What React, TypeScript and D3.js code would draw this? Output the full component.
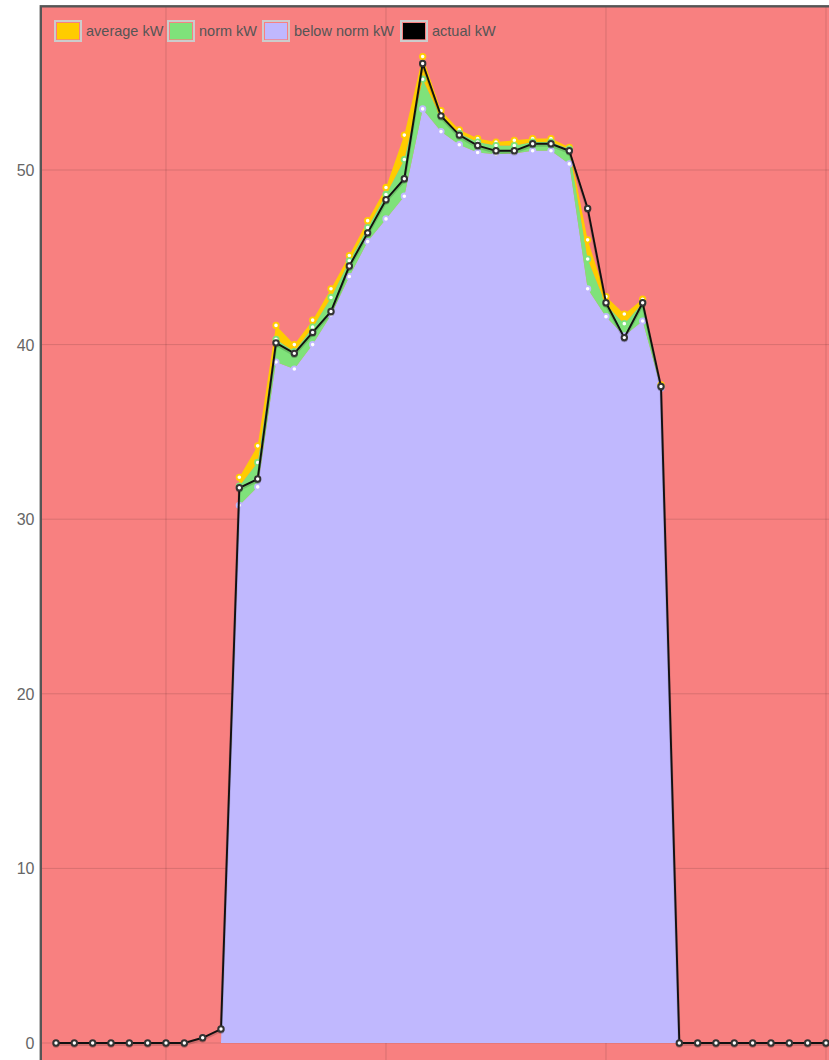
import React from 'react';
import * as d3 from 'd3';

// one value per time slot (48 slots, vertical grid every 12 slots)
const averageKW = [
  0, 0, 0, 0, 0, 0, 0, 0, 0, 0,
  32.4, 34.2, 41.1, 40.0, 41.4, 43.2, 45.1, 47.1, 49.0, 52.0,
  56.5, 53.4, 52.3, 51.8, 51.6, 51.7, 51.8, 51.8, 51.3, 46.0,
  42.75, 41.75, 42.6, 37.7, 0, 0, 0, 0, 0, 0,
  0, 0, 0, 0, 0, 0, 0, 0,
];
const normKW = [
  0, 0, 0, 0, 0, 0, 0, 0, 0, 0,
  31.9, 33.25, 40.3, 39.6, 41.0, 42.7, 44.8, 46.7, 48.6, 50.6,
  55.2, 53.0, 52.1, 51.6, 51.4, 51.4, 51.6, 51.6, 51.2, 44.9,
  42.3, 41.2, 42.4, 37.6, 0, 0, 0, 0, 0, 0,
  0, 0, 0, 0, 0, 0, 0, 0,
];
const belowNormKW = [
  0, 0, 0, 0, 0, 0, 0, 0, 0, 0,
  30.8, 31.85, 39.0, 38.6, 40.0, 41.7, 43.9, 45.9, 47.2, 48.5,
  53.5, 52.2, 51.45, 51.0, 50.9, 50.95, 51.1, 51.1, 50.35, 43.2,
  41.6, 40.5, 41.35, 37.5, 0, 0, 0, 0, 0, 0,
  0, 0, 0, 0, 0, 0, 0, 0,
];
const actualKW = [
  0, 0, 0, 0, 0, 0, 0, 0, 0.3, 0.8,
  31.8, 32.3, 40.1, 39.5, 40.7, 41.9, 44.5, 46.4, 48.3, 49.5,
  56.1, 53.1, 52.0, 51.4, 51.1, 51.1, 51.5, 51.5, 51.1, 47.8,
  42.4, 40.4, 42.4, 37.6, 0, 0, 0, 0, 0, 0,
  0, 0, 0, 0, 0, 0, 0, 0,
];
const zeros = averageKW.map(() => 0);

const yTicks = [0, 10, 20, 30, 40, 50];
const xGridSlots = [6, 18, 30, 42];
const legendLabels = ['average kW', 'norm kW', 'below norm kW', 'actual kW'];
const seriesColors = ['#ffcc00', '#7fe27a', '#c0b8fe', '#000000'];

const W = 829;
const H = 1060;
const plotLeft = 41;
const plotTop = 6;
const bg = '#f88080';
const font = '"Liberation Sans", Arial, sans-serif';

function App() {
  const x = d3.scaleLinear().domain([0, 47]).range([56, 56 + 47 * 18.333]);
  const y = d3.scaleLinear().domain([0, 50]).range([1043, 170]);

  const band = (lo: number[], hi: number[]) =>
    d3
      .area<number>()
      .x((_, i) => x(i))
      .y0((_, i) => y(lo[i]))
      .y1((d) => y(d))(hi) as string;

  const line = d3
    .line<number>()
    .x((_, i) => x(i))
    .y((d) => y(d));

  const legendX = [54, 167, 262, 400];

  // reference series only show points where they have a reading
  const dots = (vals: number[], color: string, key: string, sw = 1.8, all = false) =>
    vals.map((v, i) =>
      all || v > 0 ? (
        <circle key={key + i} cx={x(i)} cy={y(v)} r={2.7} fill="#ffffff" stroke={color} strokeWidth={sw} />
      ) : null
    );

  return (
    <svg width={W} height={H} style={{ position: 'absolute', left: 0, top: 0, display: 'block' }}>
      <defs>
        <clipPath id="plot">
          <rect x={plotLeft} y={plotTop} width={W} height={H} />
        </clipPath>
      </defs>
      <rect x={0} y={0} width={W} height={H} fill="#ffffff" />
      <rect x={plotLeft} y={plotTop} width={W} height={H} fill={bg} />

      <g clipPath="url(#plot)">
        {yTicks.map((t) => (
          <line key={'gy' + t} x1={plotLeft} x2={W} y1={y(t)} y2={y(t)} stroke="rgba(0,0,0,0.13)" strokeWidth={1} />
        ))}
        {xGridSlots.map((s) => (
          <line key={'gx' + s} x1={x(s)} x2={x(s)} y1={plotTop} y2={H} stroke="rgba(0,0,0,0.13)" strokeWidth={1} />
        ))}

        <path d={band(zeros, belowNormKW)} fill={seriesColors[2]} />
        <path d={band(belowNormKW, normKW)} fill={seriesColors[1]} />
        <path d={band(normKW, averageKW)} fill={seriesColors[0]} />

        {dots(averageKW, seriesColors[0], 'a')}
        {dots(normKW, seriesColors[1], 'n')}
        {dots(belowNormKW, seriesColors[2], 'b')}

        <path
          d={line(actualKW) as string}
          fill="none"
          stroke="rgba(0,0,0,0.15)"
          strokeWidth={3}
          transform="translate(0,1.5)"
        />
        <path d={line(actualKW) as string} fill="none" stroke="#111111" strokeWidth={1.9} />
        {actualKW.map((v, i) => (
          <circle key={'sh' + i} cx={x(i)} cy={y(v) + 1.2} r={3.5} fill="rgba(0,0,0,0.25)" />
        ))}
        {dots(actualKW, '#333333', 'k', 2, true)}
      </g>

      <rect
        x={plotLeft - 0.2}
        y={plotTop + 0.3}
        width={W + 20}
        height={H + 20}
        fill="none"
        stroke="#555555"
        strokeWidth={2.4}
      />

      {yTicks.map((t) => (
        <text key={'ty' + t} x={34.5} y={y(t) + 6} textAnchor="end" fontFamily={font} fontSize={16} fill="#666666">
          {t}
        </text>
      ))}

      {legendLabels.map((lab, i) => (
        <g key={lab}>
          <rect x={legendX[i] + 1} y={21} width={26} height={20} fill="none" stroke="#cccccc" strokeWidth={2} />
          <rect x={legendX[i] + 3} y={23} width={22} height={16.3} fill={seriesColors[i]} />
          <text x={legendX[i] + 32} y={35.5} fontFamily={font} fontSize={14.5} fill="#555555">
            {lab}
          </text>
        </g>
      ))}
    </svg>
  );
}

export default App;
